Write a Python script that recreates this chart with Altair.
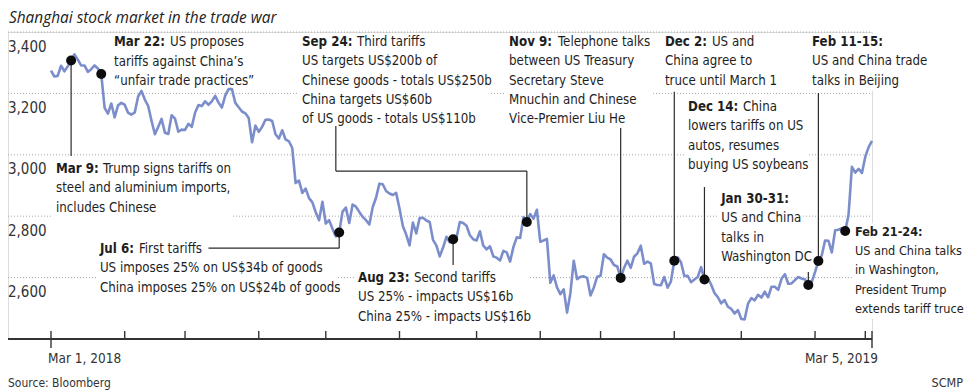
import altair as alt
import pandas as pd

# ---------------- data: Shanghai Composite, one close per trading day ----------------
mar18 = [3274, 3255, 3257, 3290, 3272, 3288, 3307, 3327, 3310, 3291, 3291, 3270, 3279, 3291,
         3281, 3263, 3153, 3134, 3167, 3122, 3161, 3169]
apr18 = [3163, 3137, 3131, 3138, 3190, 3208, 3180, 3159, 3111, 3067, 3091, 3117, 3072, 3068,
         3129, 3118, 3075, 3082]
may18 = [3081, 3101, 3091, 3137, 3162, 3159, 3174, 3163, 3174, 3192, 3170, 3154, 3193, 3214,
         3214, 3169, 3155, 3141, 3135, 3120, 3041, 3095]
jun18 = [3075, 3091, 3114, 3115, 3110, 3067, 3053, 3080, 3050, 3044, 3022, 2908, 2916, 2876,
         2890, 2859, 2845, 2813, 2787, 2847]
jul18 = [2776, 2787, 2759, 2734, 2747, 2815, 2828, 2778, 2838, 2831, 2814, 2798, 2787, 2773,
         2829, 2860, 2906, 2904, 2882, 2874, 2869, 2876]
aug18 = [2825, 2768, 2740, 2705, 2779, 2744, 2794, 2795, 2786, 2781, 2723, 2705, 2669, 2698,
         2733, 2715, 2725, 2729, 2781, 2778, 2769, 2738, 2725]
sep18 = [2721, 2751, 2704, 2692, 2702, 2669, 2665, 2656, 2687, 2682, 2652, 2700, 2731, 2729,
         2797, 2781, 2807, 2792, 2821]
oct18 = [2717, 2721, 2726, 2583, 2607, 2568, 2546, 2562, 2486, 2550, 2655, 2595, 2603, 2604,
         2599, 2542, 2568, 2603]
nov18 = [2606, 2676, 2665, 2659, 2641, 2636, 2599, 2631, 2655, 2632, 2668, 2679, 2704, 2645,
         2652, 2646, 2579, 2576, 2575, 2602, 2567, 2588]
dec18 = [2655, 2666, 2650, 2605, 2606, 2585, 2594, 2602, 2634, 2594, 2598, 2577, 2550, 2536,
         2516, 2527, 2505, 2498, 2483, 2494]
jan19 = [2465, 2464, 2515, 2533, 2526, 2544, 2535, 2554, 2536, 2570, 2570, 2560, 2596, 2611,
         2580, 2581, 2592, 2602, 2597, 2594, 2576, 2585]
feb19 = [2618, 2654, 2672, 2721, 2720, 2682, 2754, 2756, 2761, 2752, 2804, 2961, 2942, 2954,
         2941]
mar19 = [2994, 3025, 3045]

closes = mar18 + apr18 + may18 + jun18 + jul18 + aug18 + sep18 + oct18 + nov18 + dec18 + jan19 + feb19 + mar19
month_start_days = [22, 40, 62, 82, 104, 127, 146, 164, 186, 206, 228, 243]
first_day, last_day = 0, 245
end_labels = ["Mar 1, 2018", "Mar 5, 2019"]
grid_values = [2600, 2800, 3000, 3200, 3400]
grid_labels = ["2,600", "2,800", "3,000", "3,200", "3,400"]
event_days = [6, 15, 86, 120, 142, 170, 186, 195, 226, 229, 237]

title_text = "Shanghai stock market in the trade war"
source_text = "Source: Bloomberg"
credit_text = "SCMP"

# annotation texts: (bold head, rest of first line, following lines)
notes_text = [
    ("Mar 22:", "US proposes", ["tariffs against China\u2019s", "\u201cunfair trade practices\u201d"]),
    ("Mar 9:", "Trump signs tariffs on", ["steel and aluminium imports,", "includes Chinese"]),
    ("Jul 6:", "First tariffs", ["US imposes 25% on US$34b of goods", "China imposes 25% on US$24b of goods"]),
    ("Aug 23:", "Second tariffs", ["US 25% - impacts US$16b", "China 25% - impacts US$16b"]),
    ("Sep 24:", "Third tariffs", ["US targets US$200b of", "Chinese goods - totals US$250b",
                                 "China targets US$60b", "of US goods - totals US$110b"]),
    ("Nov 9:", "Telephone talks", ["between US Treasury", "Secretary Steve", "Mnuchin and Chinese",
                                   "Vice-Premier Liu He"]),
    ("Dec 2:", "US and", ["China agree to", "truce until March 1"]),
    ("Dec 14:", "China", ["lowers tariffs on US", "autos, resumes", "buying US soybeans"]),
    ("Jan 30-31:", "", ["US and China", "talks in", "Washington DC"]),
    ("Feb 11-15:", "", ["US and China trade", "talks in Beijing"]),
    ("Feb 21-24:", "", ["US and China talks", "in Washington,", "President Trump", "extends tariff truce"]),
]

# ---------------- layout (data units: trading day / index points) ----------------
PX_X = 3.351   # px per trading day
PX_Y = 0.307   # px per index point
XMIN, XMAX = -12.83, 245
YMIN, YMAX = 2400, 3400
W, H = 864, 307
LINE = 19.3 / PX_Y

FONT = "DejaVu Sans Condensed"
FS = 13.2
FS_EDGE = 12.6   # right-most block, kept inside the page
TXT = "#1e1e1e"

# anchor (day, value) of first text line, gap of head to rest (px), box width (px), font size
notes_layout = [
    (18.8, 3366, 56, 136, FS), (1.5, 2954, 47, 176, FS), (14.6, 2693, 39, 236, FS),
    (91.6, 2599, 56, 170, FS), (74.9, 3367, 55, 188, FS), (136.7, 3367, 49, 142, FS),
    (183.2, 3367, 47, 112, FS), (190.1, 3156, 55, 120, FS), (200.0, 2856, 0, 82, FS),
    (227.1, 3367, 0, 114, FS), (239.9, 2749, 0, 112, FS_EDGE),
]
# leader segments: (x, x2, y, y2) ; None -> the close of that day
leaders = [
    (6, 6, None, 2996),
    (86, 86, None, 2696), (47.0, 86, 2696, 2696),
    (120, 120, None, 2641),
    (142, 142, None, 2947), (85.0, 142, 2947, 2947), (85.0, 85.0, 2947, 3094),
    (170, 170, None, 3087),
    (186, 186, None, 3205),
    (195, 195, None, 2895),
    (226, 226, None, 2618),
    (229, 229, None, 3201),
]

# ---------------- tables ----------------
price = pd.DataFrame({"x": list(range(len(closes))), "y": closes})
dots = pd.DataFrame({"x": event_days, "y": [closes[d] for d in event_days]})
grid = pd.DataFrame({"y": grid_values, "x": XMIN, "x2": XMAX, "label": grid_labels})

lead_rows = []
for x, x2, y, y2 in leaders:
    lead_rows.append({"x": x, "x2": x2, "y": closes[int(x)] if y is None else y, "y2": y2})
lead = pd.DataFrame(lead_rows)

bold_rows, norm_rows, box_rows = [], [], []
for (head, rest, lines), (x0, y0, gap, w, fs) in zip(notes_text, notes_layout):
    bold_rows.append({"x": x0, "y": y0, "t": head, "fs": fs})
    if rest:
        norm_rows.append({"x": x0 + gap / PX_X, "y": y0, "t": rest, "fs": fs})
    for i, ln in enumerate(lines):
        norm_rows.append({"x": x0, "y": y0 - (i + 1) * LINE, "t": ln, "fs": fs})
    ylast = y0 - len(lines) * LINE
    box_rows.append({"x": x0 - 3 / PX_X, "x2": x0 + w / PX_X,
                     "y": y0 + 8.5 / PX_Y, "y2": ylast - 10 / PX_Y})
bold_df = pd.DataFrame(bold_rows)
norm_df = pd.DataFrame(norm_rows)
box_df = pd.DataFrame(box_rows)

ticks_in = pd.DataFrame({"x": month_start_days, "y": YMIN, "y2": YMIN + 8 / PX_Y})
ticks_end = pd.DataFrame({"x": [first_day, last_day], "y": YMIN - 9 / PX_Y, "y2": YMIN + 8 / PX_Y})
axis_line = pd.DataFrame({"x": [XMIN], "x2": [XMAX], "y": [YMIN]})

XS = alt.Scale(domain=[XMIN, XMAX], nice=False, zero=False)
YS = alt.Scale(domain=[YMIN, YMAX], nice=False, zero=False)
X = alt.X("x:Q", scale=XS, axis=None)
Y = alt.Y("y:Q", scale=YS, axis=None)

gridlines = alt.Chart(grid).mark_rule(color="#a8a8a8", strokeWidth=1, strokeDash=[1, 2]).encode(
    x=X, x2="x2:Q", y=Y)
ylabels = alt.Chart(grid).mark_text(align="left", baseline="middle", dy=14.5, font=FONT,
                                    fontSize=15, color="#333333").encode(x=X, y=Y, text="label:N")
boxes = alt.Chart(box_df).mark_rect(color="white").encode(x=X, x2="x2:Q", y=Y, y2="y2:Q")
line = alt.Chart(price).mark_line(color="#7b8ecb", strokeWidth=2.6, strokeJoin="round").encode(x=X, y=Y)
leader_lines = alt.Chart(lead).mark_rule(color="#2a2a2a", strokeWidth=1.2).encode(
    x=X, x2="x2:Q", y=Y, y2="y2:Q")
dot_marks = alt.Chart(dots).mark_circle(size=100, color="#0d0d0d", opacity=1).encode(x=X, y=Y)

text_layers = []
for fs in sorted(set(r[4] for r in notes_layout)):
    b = bold_df[bold_df.fs == fs]
    n = norm_df[norm_df.fs == fs]
    text_layers.append(alt.Chart(b).mark_text(align="left", baseline="middle", font=FONT, fontSize=fs,
                                              fontWeight="bold", color=TXT).encode(x=X, y=Y, text="t:N"))
    text_layers.append(alt.Chart(n).mark_text(align="left", baseline="middle", font=FONT, fontSize=fs,
                                              color=TXT).encode(x=X, y=Y, text="t:N"))

xaxis = alt.Chart(axis_line).mark_rule(color="#333333", strokeWidth=2).encode(x=X, x2="x2:Q", y=Y)
tick_a = alt.Chart(ticks_in).mark_rule(color="#333333", strokeWidth=1.4).encode(x=X, y=Y, y2="y2:Q")
tick_b = alt.Chart(ticks_end).mark_rule(color="#333333", strokeWidth=1.4).encode(x=X, y=Y, y2="y2:Q")
lab_l = alt.Chart(pd.DataFrame({"x": [first_day - 3 / PX_X], "y": [YMIN], "t": [end_labels[0]]})).mark_text(
    align="left", baseline="middle", dy=20, font=FONT, fontSize=13.5, color="#333333").encode(x=X, y=Y, text="t:N")
lab_r = alt.Chart(pd.DataFrame({"x": [last_day + 6 / PX_X], "y": [YMIN], "t": [end_labels[1]]})).mark_text(
    align="right", baseline="middle", dy=20, font=FONT, fontSize=13.5, color="#333333").encode(x=X, y=Y, text="t:N")

title = alt.Chart(pd.DataFrame({"t": [title_text]})).mark_text(
    align="left", baseline="middle", font="Open Sans", fontSize=15.4, fontStyle="italic", color="#222222"
).encode(x=alt.value(1), y=alt.value(-14), text="t:N")
source = alt.Chart(pd.DataFrame({"t": [source_text]})).mark_text(
    align="left", baseline="middle", font=FONT, fontSize=12, color="#333333"
).encode(x=alt.value(0), y=alt.value(351), text="t:N")
credit = alt.Chart(pd.DataFrame({"t": [credit_text]})).mark_text(
    align="right", baseline="middle", font=FONT, fontSize=12.5, color="#333333"
).encode(x=alt.value(955), y=alt.value(351), text="t:N")

chart = alt.layer(
    gridlines, ylabels, boxes, line, leader_lines, dot_marks, *text_layers,
    xaxis, tick_a, tick_b, lab_l, lab_r, title, source, credit
).properties(
    width=W, height=H,
    autosize=alt.AutoSizeParams(type="none"),
    padding={"left": 0, "top": 24, "right": 92, "bottom": 53},
).configure_view(stroke=None).configure(background="white")

chart.save("out.html", embed_options={"renderer": "svg", "actions": False})
